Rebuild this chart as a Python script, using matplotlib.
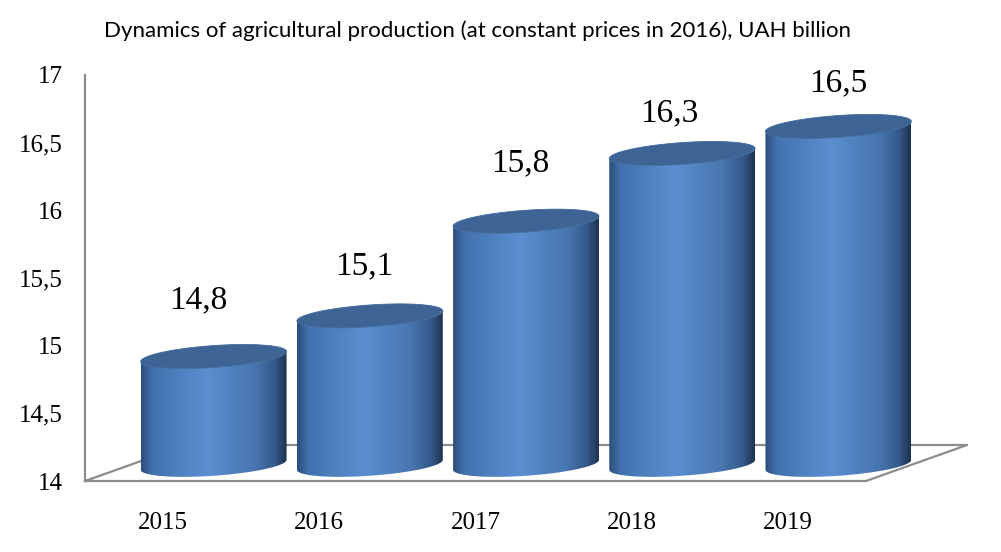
import numpy as np
import matplotlib.pyplot as plt
from matplotlib.patches import Polygon
from matplotlib.colors import LinearSegmentedColormap

years = ['2015', '2016', '2017', '2018', '2019']
values = [14.8, 15.1, 15.8, 16.3, 16.5]
value_labels = ['14,8', '15,1', '15,8', '16,3', '16,5']
yticks = [14, 14.5, 15, 15.5, 16, 16.5, 17]
ytick_labels = ['14', '14,5', '15', '15,5', '16', '16,5', '17']
title = 'Dynamics of agricultural production (at constant prices in 2016), UAH billion'

# where excel put each value label relative to the bar top (points)
label_dx = [-11, -4, -4, -9, 0]
label_dy = [41, 36, 42, 29, 31]

fig = plt.figure(figsize=(10.01, 5.52), dpi=100)
ax = fig.add_axes([85 / 1001, (552 - 481) / 552, 781 / 1001, 406 / 552])
ax.set_xlim(-0.5, 4.5)
ax.set_ylim(14, 17)

# depth of the 3d floor, in data units
depth_x, depth_y = 0.647, 0.266
bar_dx, bar_dy = depth_x / 2, depth_y * 0.45
half_w = 0.467          # half bar width
ell_b = 0.081           # ellipse semi-minor (data y)
shear = 0.079           # tilt of the ellipses

gray = '#8c8c8c'
floor_x = [-0.5, 4.5, 4.5 + depth_x, -0.5 + depth_x, -0.5]
floor_y = [14, 14, 14 + depth_y, 14 + depth_y, 14]
ax.plot(floor_x, floor_y, color=gray, lw=1.6, clip_on=False, zorder=1)

cmap = LinearSegmentedColormap.from_list('cyl', [
    (0.0, '#2c4d7a'), (0.08, '#4272ae'), (0.45, '#5b8fd1'),
    (0.78, '#4876af'), (0.92, '#34598a'), (1.0, '#1d324f')])
grad = np.linspace(0, 1, 256)[None, :]

t_low = np.linspace(np.pi, 2 * np.pi, 100)
t_up = np.linspace(0, np.pi, 100)
t_all = np.linspace(0, 2 * np.pi, 200)

for i, v in enumerate(values):
    c = i + bar_dx
    base = 14 + bar_dy
    top = v + bar_dy
    xl = c + half_w * np.cos(t_low)
    yl = base + ell_b * np.sin(t_low) + shear * half_w * np.cos(t_low)
    xu = c + half_w * np.cos(t_up)
    yu = top + ell_b * np.sin(t_up) + shear * half_w * np.cos(t_up)
    body = Polygon(np.column_stack([np.r_[xl, xu], np.r_[yl, yu]]),
                   closed=True, fc='none', ec='none', clip_on=False)
    ax.add_patch(body)
    im = ax.imshow(grad, cmap=cmap, aspect='auto', interpolation='bilinear',
                   extent=(c - half_w, c + half_w, base - 0.2, top + 0.2),
                   zorder=2)
    im.set_clip_path(body)
    im.set_clip_box(fig.bbox)
    xt = c + half_w * np.cos(t_all)
    yt = top + ell_b * np.sin(t_all) + shear * half_w * np.cos(t_all)
    ax.add_patch(Polygon(np.column_stack([xt, yt]), closed=True,
                         fc='#3d6494', ec='#4a72a3', lw=0.6, zorder=3,
                         clip_on=False))
    ax.annotate(value_labels[i], (c, top), xytext=(label_dx[i], label_dy[i]),
                textcoords='offset points', ha='center', va='center',
                fontsize=24, family='Liberation Serif', zorder=4)

ax.set_xlim(-0.5, 4.5)
ax.set_ylim(14, 17)
ax.set_xticks(range(len(years)))
ax.set_xticklabels(years, family='Liberation Serif', fontsize=18)
ax.set_yticks(yticks)
ax.set_yticklabels(ytick_labels, family='Liberation Serif', fontsize=18)
ax.tick_params(axis='x', length=0, pad=22)
ax.tick_params(axis='y', length=0, pad=16)
for side in ['top', 'right', 'bottom']:
    ax.spines[side].set_visible(False)
ax.spines['left'].set_color(gray)
ax.spines['left'].set_linewidth(1.6)
ax.patch.set_visible(False)

fig.text(478 / 1001, 1 - 31 / 552, title, ha='center', va='center',
         fontsize=16, family='Lato')

fig.savefig('out.png', dpi=100)
